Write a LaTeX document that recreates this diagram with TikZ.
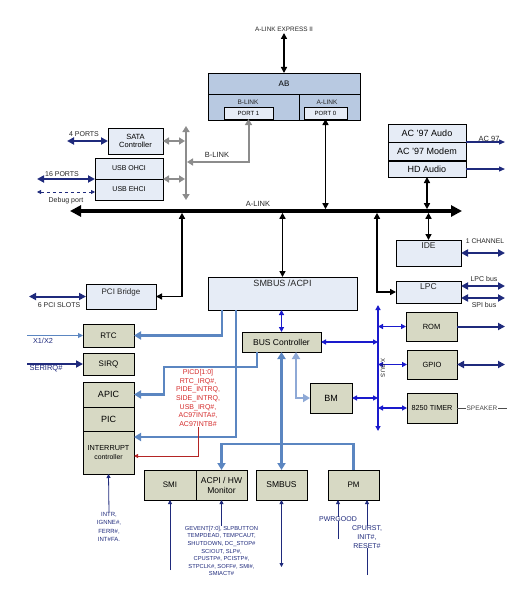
\documentclass[tikz,border=0pt]{standalone}
\usepackage{fontspec}
\setmainfont{Liberation Sans}
\usetikzlibrary{arrows.meta}
\definecolor{SbLight}{HTML}{E6ECF6}
\definecolor{SbGreen}{HTML}{D7D9C4}
\definecolor{SbAB}{HTML}{B8C9E1}
\definecolor{SbSteel}{HTML}{5B86C1}
\definecolor{SbSteelLt}{HTML}{8EA9D6}
\definecolor{SbBlue}{HTML}{1A1ACC}
\definecolor{SbNavy}{HTML}{1F2A7C}
\definecolor{SbGray}{HTML}{8C8C8C}
\definecolor{SbRed}{HTML}{D42A2A}
\newcommand\sbfont[2]{\fontsize{#1}{#2}\selectfont}

\begin{document}
\begin{tikzpicture}[x=1pt,y=-1pt,
  lbox/.style={draw,line width=.7pt,fill=SbLight,inner sep=0pt,outer sep=0pt,align=center},
  gbox/.style={lbox,fill=SbGreen},
  abox/.style={lbox,fill=SbAB},
  txt/.style={inner sep=0pt,align=center,text=black!85},
  blk/.style={line width=1.6pt,>={Triangle[length=6pt,width=6pt]}},
  abus/.style={line width=3.6pt,>={Triangle[length=11pt,width=11pt]}},
  gry/.style={color=SbGray,line width=2pt,>={Triangle[length=6pt,width=7pt]}},
  stl/.style={color=SbSteel,line width=2.6pt,>={Triangle[length=7pt,width=8pt]}},
  stllt/.style={color=SbSteelLt,line width=2.6pt,>={Triangle[length=7pt,width=8pt]}},
  xb/.style={color=SbBlue,line width=1.3pt,>={Triangle[length=5pt,width=5pt]}},
  nvy/.style={color=SbNavy,line width=2pt,>={Triangle[length=7pt,width=7pt]}},
  nvyln/.style={color=SbNavy,line width=1.2pt,>={Triangle[length=6pt,width=5pt]}},
  nvythin/.style={color=SbNavy,line width=.8pt,>={Triangle[length=4pt,width=4pt]}},
  irqline/.style={color=SbRed!85!black,line width=.8pt,>={Triangle[length=4pt,width=4pt]}}]
  \useasboundingbox (0,0) rectangle (518,591);
  \node[abox,minimum width=152pt,minimum height=21pt,font=\sbfont{8}{9}] (ab) at (284,83.5) {AB};
  \node[abox,minimum width=91pt,minimum height=26pt] (blinkpart) at (253.5,107) {};
  \node[abox,minimum width=61pt,minimum height=26pt] (alinkpart) at (329.5,107) {};
  \node[lbox,minimum width=49pt,minimum height=12pt,font=\sbfont{6}{7}] (port1) at (248.5,113) {PORT 1};
  \node[lbox,minimum width=43pt,minimum height=12pt,font=\sbfont{6}{7}] (port0) at (325.5,113) {PORT 0};
  \node[txt,font=\sbfont{6.5}{7}] (blinktxt) at (248,102.5) {B-LINK};
  \node[txt,font=\sbfont{6.5}{7}] (alinktxt) at (327,102.5) {A-LINK};
  \node[lbox,minimum width=55pt,minimum height=26pt,font=\sbfont{7.5}{8.5}] (sata) at (135.5,141) {SATA\\Controller};
  \node[lbox,minimum width=68pt,minimum height=21pt,font=\sbfont{7}{8}] (usbo) at (129,168.5) {USB OHCI};
  \node[lbox,minimum width=68pt,minimum height=21pt,font=\sbfont{7}{8}] (usbe) at (129,189.5) {USB EHCI};
  \node[lbox,minimum width=78pt,minimum height=18pt,font=\sbfont{9}{10}] (ac97a) at (427,133) {AC '97 Audo};
  \node[lbox,minimum width=78pt,minimum height=19pt,font=\sbfont{9}{10}] (ac97m) at (427,151.5) {AC '97 Modem};
  \node[lbox,minimum width=78pt,minimum height=16pt,font=\sbfont{9}{10}] (hda) at (427,169) {HD Audio};
  \draw[line width=1.8pt] (hda.north west) -- (hda.north east);
  \node[lbox,minimum width=65pt,minimum height=26pt] (ide) at (428.5,253) {};
  \node[txt,font=\sbfont{8.5}{9}] (idetxt) at (428.5,246) {IDE};
  \node[lbox,minimum width=65pt,minimum height=22pt] (lpc) at (428.5,292) {};
  \node[txt,font=\sbfont{8.5}{9}] (lpctxt) at (428.5,287) {LPC};
  \node[lbox,minimum width=70pt,minimum height=25pt] (pci) at (121,296.5) {};
  \node[txt,font=\sbfont{8}{9}] (pcitxt) at (121,292) {PCI Bridge};
  \node[lbox,minimum width=149pt,minimum height=33pt] (acpi) at (282.5,293.5) {};
  \node[txt,font=\sbfont{9}{10}] (acpitxt) at (282.5,283) {SMBUS /ACPI};
  \node[gbox,minimum width=51pt,minimum height=23pt,font=\sbfont{8}{9}] (rtc) at (108.5,335.5) {RTC};
  \node[gbox,minimum width=51pt,minimum height=22pt,font=\sbfont{8}{9}] (sirq) at (108.5,364) {SIRQ};
  \node[gbox,minimum width=51pt,minimum height=25pt,font=\sbfont{9}{10}] (apic) at (108.5,394.5) {APIC};
  \node[gbox,minimum width=51pt,minimum height=24pt,font=\sbfont{9}{10}] (pic) at (108.5,419) {PIC};
  \node[gbox,minimum width=51pt,minimum height=43pt,font=\sbfont{7.3}{9}] (intc) at (108.5,452.5) {INTERRUPT\\{\sbfont{6.9}{8}controller}};
  \node[gbox,minimum width=79pt,minimum height=20pt,font=\sbfont{8.5}{9}] (busctl) at (281.5,342) {BUS Controller};
  \node[gbox,minimum width=42pt,minimum height=30pt,font=\sbfont{9}{10}] (bm) at (331,398) {BM};
  \node[gbox,minimum width=51pt,minimum height=29pt,font=\sbfont{7.5}{8}] (rom) at (431.5,326.5) {ROM};
  \node[gbox,minimum width=50pt,minimum height=29pt,font=\sbfont{7.5}{8}] (gpio) at (432,364.5) {GPIO};
  \node[gbox,minimum width=50pt,minimum height=30pt,font=\sbfont{7.3}{8}] (timer) at (432,408) {8250 TIMER};
  \node[gbox,minimum width=52pt,minimum height=30pt,font=\sbfont{8}{9}] (smi) at (170,485) {SMI};
  \node[gbox,minimum width=51pt,minimum height=30pt,font=\sbfont{8.5}{10}] (acpihw) at (221.5,485) {ACPI / HW\\Monitor};
  \node[gbox,minimum width=51pt,minimum height=30pt,font=\sbfont{8.5}{9}] (smbus) at (281.5,485) {SMBUS};
  \node[gbox,minimum width=51pt,minimum height=30pt,font=\sbfont{8}{9}] (pm) at (353.5,485) {PM};
  \coordinate (aexp) at (284,33);\coordinate (alinkL) at (70,211);\coordinate (alinkR) at (462,211);
  \coordinate (pcitap) at (182,211);\coordinate (lpctap) at (377,211);
  \coordinate (gtop) at (186,126);\coordinate (gbot) at (186,200);\coordinate (blinkc) at (248.5,162);
  \coordinate (xtop) at (378,305);\coordinate (xbot) at (378,431);\coordinate (trunkL) at (221.5,444);
  \coordinate (sataext) at (67,141);\coordinate (usbext) at (37,179);\coordinate (dbgext) at (37,192);
  \coordinate (ac97ext) at (505,142);\coordinate (hdaext) at (505,169);\coordinate (ideext) at (505,253);
  \coordinate (lpcext) at (505,286);\coordinate (spiext) at (505,298);\coordinate (pciext) at (29,296.5);
  \coordinate (x12ext) at (27,335.5);\coordinate (serext) at (27,364);
  \coordinate (romext) at (505,326.5);\coordinate (gpioext) at (505,364.5);\coordinate (spkext) at (507,408);
  \coordinate (smiext) at (170,570);\coordinate (smbext) at (281.5,567);
  \coordinate (pwrext) at (338,539);\coordinate (rstext) at (367,575);
  \draw[abus,<->] (alinkL) -- (alinkR);
  \draw[blk,<->] (aexp) -- (ab.north);
  \draw[blk,<->,shorten >=1.8pt] (port0.south) -- (port0.south |- alinkL);
  \draw[blk,<->,shorten >=1.8pt] (hda.south) -- (hda.south |- alinkL);
  \draw[blk,<->,shorten <=1.8pt] (ide.north |- alinkL) -- (ide.north);
  \draw[blk,<->,shorten <=1.8pt] (acpi.north |- alinkL) -- (acpi.north);
  \draw[blk,<->,shorten <=1.8pt] (pcitap) |- (pci.east);
  \draw[blk,<->,shorten <=1.8pt] (lpctap) |- (lpc.west);
  \draw[gry,<->] (gtop) -- (gbot);
  \draw[gry,<->,shorten >=1pt] (sata.east) -- (sata.east -| gtop);
  \draw[gry,<->,shorten >=1pt] (usbo.south east) -- (usbo.south east -| gtop);
  \draw[gry,<->,shorten >=1pt] (port1.south) -- (blinkc) -- (blinkc -| gtop);
  \draw[nvy,<->] (sataext) -- (sata.west);
  \draw[nvy,<->] (usbext) -- (usbo.south west);
  \draw[nvythin,dashed,<->] (dbgext) -- (dbgext -| usbe.west);
  \draw[nvyln,->] (ac97a.south east) -- (ac97ext);
  \draw[nvyln,->] (hda.east) -- (hdaext);
  \draw[nvy,<->] (ide.east) -- (ideext);
  \draw[nvy,<->] (lpcext -| lpc.east) -- (lpcext);
  \draw[nvy,<->] (spiext -| lpc.east) -- (spiext);
  \draw[nvy,<->] (pciext) -- (pci.west);
  \draw[color=SbSteel,line width=1pt,->,>={Triangle[length=5pt,width=5pt]}] (x12ext) -- (rtc.west);
  \draw[nvy,->] (serext) -- (sirq.west);
  \draw[stl,->] ([xshift=14pt]acpi.south west) |- (rtc.east);
  \draw[stl,->] ([xshift=28pt]acpi.south west) |- ([yshift=-6pt]intc.north east);
  \draw[stl,->] ([xshift=15pt]busctl.south west) -- ++(0,15) -- ++(-93,0) |- (apic.east);
  \draw[stl,<->] (busctl.south) -- (smbus.north);
  \draw[stl,->] (pm.north) |- (trunkL) -- (acpihw.north);
  \draw[stllt,<->] ([xshift=54pt]busctl.south west) |- (bm.west);
  \draw[xb,<->] (busctl.north) -- (busctl.north |- acpi.south);
  \draw[xb,<->] (xtop) -- (xbot);
  \draw[xb,<->] (busctl.east) -- (busctl.east -| xtop);
  \draw[xb,<->] (bm.east) -- (bm.east -| xtop);
  \draw[xb,<->] (rom.west -| xtop) -- (rom.west);
  \draw[xb,<->] (gpio.west -| xtop) -- (gpio.west);
  \draw[xb,<->] (timer.west -| xtop) -- (timer.west);
  \draw[nvy,->] (rom.east) -- (romext);
  \draw[nvy,<->] (gpio.east) -- (gpioext);
  \draw[black!70,line width=.6pt] (timer.east) -- (spkext);
  \node[txt,font=\sbfont{6.4}{7}] (aexptxt) at (284,29) {A-LINK EXPRESS II};
  \node[txt,font=\sbfont{7.5}{8}] (alinklbl) at (258,204) {A-LINK};
  \node[txt,font=\sbfont{7.5}{8}] (blinklbl) at (217,155) {B-LINK};
  \node[txt,font=\sbfont{7}{8}] (ports4) at (84,134) {4 PORTS};
  \node[txt,font=\sbfont{7}{8}] (ports16) at (62,174.5) {16 PORTS};
  \node[txt,font=\sbfont{7}{8}] (dbglbl) at (66,201) {Debug port};
  \node[txt,font=\sbfont{7.5}{8}] (ac97lbl) at (489,139) {AC 97};
  \node[txt,font=\sbfont{6.8}{8}] (chanlbl) at (485,241) {1 CHANNEL};
  \node[txt,font=\sbfont{7}{8}] (lpcbuslbl) at (484,279) {LPC bus};
  \node[txt,font=\sbfont{7}{8}] (spibuslbl) at (484,305) {SPI bus};
  \node[txt,font=\sbfont{7}{8}] (pcislots) at (59,305) {6 PCI SLOTS};
  \node[txt,font=\sbfont{7.3}{8},text=SbNavy] (x12lbl) at (43,341) {X1/X2};
  \node[txt,font=\sbfont{7.5}{8},text=SbNavy] (serlbl) at (46,369) {SERIRQ\#};
  \node[txt,font=\sbfont{6.5}{7},fill=white,inner xsep=1pt,text=black!70] (spklbl) at (482,408) {SPEAKER};
  \node[txt,font=\sbfont{6}{7},rotate=-90] (xbuslbl) at (383,368) {X-BUS};
  \node[txt,font=\sbfont{7}{8.7},text=SbRed] (irqtxt) at (198,398) {PICD[1:0]\\RTC\_IRQ\#,\\PIDE\_INTRQ,\\SIDE\_INTRQ,\\USB\_IRQ\#,\\AC97INTA\#,\\AC97INTB\#};
  \draw[irqline,->] (irqtxt.south) |- ([yshift=-3.5pt]intc.east);
  \node[txt,font=\sbfont{6}{8.2},text=SbNavy] (intrtxt) at (109,527) {INTR,\\IGNNE\#,\\FERR\#,\\INT\#FA.};
  \draw[nvythin,->] (intrtxt.north) -- (intc.south);
  \node[txt,font=\sbfont{5.8}{7.6},text=SbNavy] (geventtxt) at (221.5,551) {GEVENT[7:0], SLPBUTTON\\TEMPDEAD, TEMPCAUT,\\SHUTDOWN, DC\_STOP\#\\SCIOUT, SLP\#,\\CPUSTP\#, PCISTP\#,\\STPCLK\#, SOFF\#, SMI\#,\\SMIACT\#};
  \draw[nvythin,->] (geventtxt.north) -- (acpihw.south);
  \draw[nvythin,->] (smiext) -- (smi.south);
  \draw[nvythin,<->] (smbus.south) -- (smbext);
  \draw[nvythin,->] (pwrext) -- (pwrext |- pm.south);
  \draw[nvythin,->] (rstext) -- (rstext |- pm.south);
  \node[txt,font=\sbfont{7}{8},text=SbNavy,fill=white] (pwrlbl) at (338,519) {PWRGOOD};
  \node[txt,font=\sbfont{7}{8.6},text=SbNavy,fill=white] (rstlbl) at (367,537) {CPURST,\\INIT\#,\\RESET\#};
\end{tikzpicture}
\end{document}
